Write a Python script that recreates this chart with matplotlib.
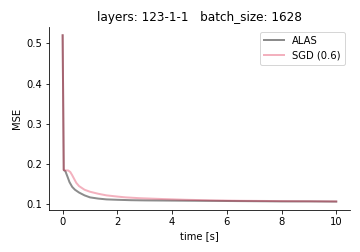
import matplotlib
matplotlib.use("Agg")
import matplotlib.pyplot as plt

# ALAS curve
alas_t = [0.0, 0.04, 0.1, 0.18, 0.25, 0.35, 0.45, 0.6, 0.8, 1.0, 1.3, 1.6, 2.0, 2.5, 3.0,
          4.0, 5.0, 6.0, 7.0, 8.0, 9.0, 10.0]
alas_mse = [0.52, 0.185, 0.182, 0.168, 0.155, 0.143, 0.136, 0.129, 0.122, 0.117, 0.114,
            0.112, 0.111, 0.110, 0.1095, 0.109, 0.1085, 0.108, 0.1075, 0.107, 0.107, 0.1065]

# SGD (0.6) curve
sgd_t = [0.0, 0.04, 0.1, 0.2, 0.28, 0.35, 0.42, 0.5, 0.6, 0.8, 1.0, 1.3, 1.6, 2.0, 2.3,
         2.8, 3.6, 4.5, 5.5, 6.5, 7.5, 8.5, 10.0]
sgd_mse = [0.52, 0.185, 0.184, 0.184, 0.18, 0.172, 0.163, 0.153, 0.145, 0.136, 0.131,
           0.126, 0.122, 0.119, 0.117, 0.115, 0.113, 0.111, 0.1095, 0.1085, 0.108, 0.1075, 0.107]

fig, ax = plt.subplots(figsize=(5, 3.5), dpi=72)
ax.plot(alas_t, alas_mse, color="black", alpha=0.45, linewidth=2, label="ALAS")
ax.plot(sgd_t, sgd_mse, color="crimson", alpha=0.33, linewidth=2, label="SGD (0.6)")
ax.set_title("layers: 123-1-1   batch_size: 1628")
ax.set_xlabel("time [s]")
ax.set_ylabel("MSE")
ax.set_xticks([0, 2, 4, 6, 8, 10])
ax.set_yticks([0.1, 0.2, 0.3, 0.4, 0.5])
ax.spines["top"].set_visible(False)
ax.spines["right"].set_visible(False)
ax.legend(loc="upper right")
fig.subplots_adjust(left=0.136, right=0.972, top=0.893, bottom=0.167)
fig.savefig("out.png", dpi=72)
